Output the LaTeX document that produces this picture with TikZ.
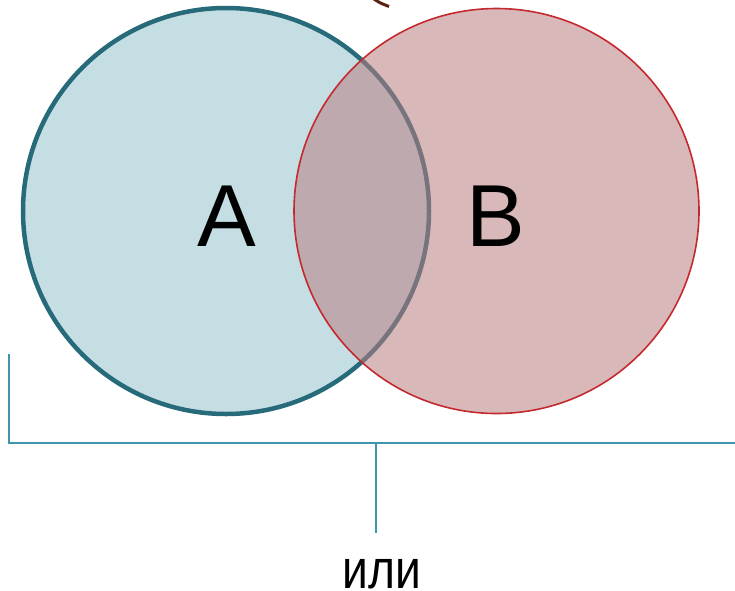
\documentclass[tikz,border=0pt]{standalone}
\usepackage{fontspec}
\setmainfont{Liberation Sans}
\definecolor{afill}{RGB}{196,222,228}
\definecolor{aline}{RGB}{39,106,122}
\definecolor{bfill}{RGB}{186,126,130}
\definecolor{bline}{RGB}{196,41,46}
\definecolor{brk}{RGB}{61,149,174}
\definecolor{brn}{RGB}{90,35,18}
\tikzset{
  setA/.style={circle, minimum size=406pt, inner sep=0pt, fill=afill, draw=aline, line width=4.5pt},
  setB/.style={circle, minimum size=405pt, inner sep=0pt, fill=bfill, fill opacity=0.55, draw=bline, draw opacity=1, line width=1.6pt},
  lbl/.style={font=\fontsize{88}{90}\selectfont, inner sep=0pt, anchor=base},
  brace/.style={draw=brk, line width=1.6pt},
}
\begin{document}
\begin{tikzpicture}[x=1pt,y=-1pt]
\useasboundingbox (0,0) rectangle (735,590);
\node[setA] (A) at (226,211) {};
\node[setB] (B) at (496.5,211) {};
\node[lbl] (la) at (227,246) {A};
\node[lbl] (lb) at (496,246) {B};
\coordinate (b1) at (9,354);
\coordinate (b2) at (9,443);
\coordinate (b3) at (735,443);
\coordinate (m1) at (376,443);
\coordinate (m2) at (376,533);
\draw[brace] (b1) -- (b2) -- (b3);
\draw[brace] (m1) -- (m2);
\node[inner sep=0pt, anchor=base, xscale=0.84, font=\fontsize{55}{60}\selectfont] (or) at (382,588) {или};
\coordinate (c1) at (374,-1);
\coordinate (c2) at (389,6.5);
\draw[brn, line width=3pt] (c1) .. controls (380,3) .. (c2);
\end{tikzpicture}
\end{document}
